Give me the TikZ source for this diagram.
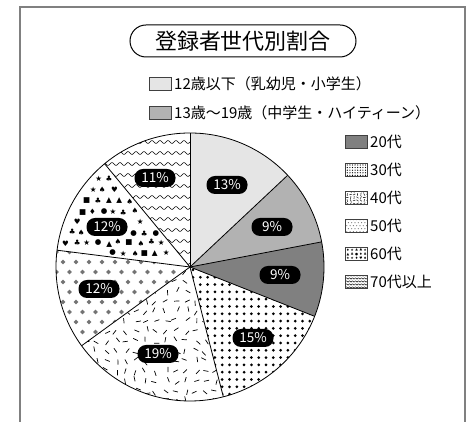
\documentclass[tikz,border=0pt]{standalone}
\usepackage{fontspec}
\setmainfont{Noto Sans CJK JP}
\newfontfamily\symf{DejaVu Sans}
\usetikzlibrary{calc}
\begin{document}
\begin{tikzpicture}[x=1pt,y=1pt,
  framel/.style={draw=black!50,line width=1.6pt},
  titlebox/.style={draw=black,line width=1pt,rounded corners=16pt,minimum width=226pt,minimum height=32pt,inner sep=0pt,font=\fontsize{22}{22}\selectfont},
  pill/.style={fill=black,text=white,rounded corners=8.5pt,minimum width=41pt,minimum height=18pt,inner sep=0pt,font=\fontsize{13.5}{13.5}\selectfont},
  legtext/.style={anchor=west,inner sep=0pt,font=\fontsize{15}{15}\selectfont},
  legbox/.style={minimum width=21pt,minimum height=13pt,inner sep=0pt},
  legline/.style={draw=black!75,line width=0.7pt},
  sep/.style={draw=black,line width=0.8pt},
  slice/.style 2 args={insert path={(0,0) -- (#1:134pt) arc[start angle=#1,end angle=#2,radius=134pt] -- cycle}},
  symnode/.style={inner sep=0pt,font=\symf\fontsize{7.5}{7.5}\selectfont}]
\useasboundingbox (0,0) rectangle (475,422);
\pgfmathsetseed{11}
\pgfmathdeclarerandomlist{suits}{{♠}{♥}{♦}{♣}{●}{★}{▲}{■}{♥}{♣}{★}{●}}
% frame
\draw[framel] (20,-5) -- (20,415) -- (465,415) -- (465,-5);
% title
\node[titlebox] (title) at (243,381) {登録者世代別割合};
% top legend
\node[legbox,fill=black!10] (lb1) at (160.5,338) {};
\draw[legline] (lb1.south west) rectangle (lb1.north east);
\node[legtext] (lt1) at (174,338) {12歳以下（乳幼児・小学生）};
\node[legbox,fill=black!30] (lb2) at (160.5,309) {};
\draw[legline] (lb2.south west) rectangle (lb2.north east);
\node[legtext] (lt2) at (174,309) {13歳〜19歳（中学生・ハイティーン）};
% pie
\begin{scope}[shift={(190,155)}]
  \fill[black!10,slice={90}{43.2}];
  \fill[black!30,slice={43.2}{10.8}];
  \fill[black!50,slice={10.8}{-21.6}];
  % 30s dots
  \begin{scope}
    \path[clip,slice={-21.6}{-75.6}];
    \foreach \i in {0,...,19}{\foreach \j in {0,...,19}{
      \fill (\i*7.3+3,-\j*7.3-3) circle (1.5pt);}}
  \end{scope}
  % 40s dashes
  \begin{scope}
    \path[clip,slice={-75.6}{-144}];
    \foreach \i in {0,...,17}{\foreach \j in {0,...,14}{
      \pgfmathsetmacro\px{-134+\i*10+2.5*rand}
      \pgfmathsetmacro\py{-\j*10-4+2.5*rand}
      \pgfmathsetmacro\pa{180*rnd}
      \pgfmathsetmacro\pb{\pa+180}
      \draw[line width=0.7pt] (\px,\py) ++(\pa:2.6pt) -- ++(\pb:5.2pt);}}
  \end{scope}
  % 50s diamonds
  \begin{scope}
    \path[clip,slice={-144}{-187.2}];
    \foreach \j in {0,...,11}{\foreach \i in {0,...,11}{
      \pgfmathsetmacro\px{-140+\i*13+mod(\j,2)*6.5}
      \pgfmathsetmacro\py{25-\j*10}
      \fill[black!55] (\px,\py) +(0,2.4) -- +(2.4,0) -- +(0,-2.4) -- +(-2.4,0) -- cycle;}}
  \end{scope}
  % 60s suits (placed only inside the slice and away from the label)
  \foreach \i in {0,...,13}{\foreach \j in {0,...,10}{
    \pgfmathsetmacro\px{-134+\i*10.5+mod(\j,2)*5+1.2*rand}
    \pgfmathsetmacro\py{3+\j*10.5+1.2*rand}
    \pgfmathrandomitem{\s}{suits}
    \pgfmathsetmacro\ca{-0.6374*\py-0.7705*\px}
    \pgfmathsetmacro\cb{0.1253*\px+0.9921*\py}
    \pgfmathsetmacro\rad{10*sqrt((\px/10)*(\px/10)+(\py/10)*(\py/10))}
    \pgfmathtruncatemacro\ok{(\ca>3.8)*(\cb>3.8)*(\rad<129)*(1-(abs(\px+83)<24)*(abs(\py-40)<12))}
    \ifnum\ok=1
      \node[symnode] (s-\i-\j) at (\px,\py) {\s};
    \fi}}
  % 70s waves
  \begin{scope}
    \path[clip,slice={-230.4}{-270}];
    \foreach \k in {0,...,12}{
      \draw[line width=0.6pt] plot[domain=-120:0,samples=160,smooth] (\x,{\k*11+4+1.4*sin(45*\x)});}
  \end{scope}
  \foreach \a in {90,43.2,10.8,-21.6,-75.6,-144,-187.2,-230.4}{\draw[sep] (0,0) -- (\a:134pt);}
  \draw[sep] (0,0) circle (134pt);
\end{scope}
% percentage labels
\node[pill] (p13) at (227,237) {13\%};
\node[pill] (p9a) at (272,195) {9\%};
\node[pill] (p9b) at (280,147) {9\%};
\node[pill] (p15) at (253,84) {15\%};
\node[pill] (p19) at (158,68) {19\%};
\node[pill] (p12a) at (99,133) {12\%};
\node[pill] (p12b) at (107,195) {12\%};
\node[pill] (p11) at (155,244) {11\%};
% right legend
\node[legbox,fill=black!50] (b20) at (356.5,280) {};
\draw[legline] (b20.south west) rectangle (b20.north east);
\node[legtext] (t20) at (370,280) {20代};
% 30
\node[legbox,fill=white] (b30) at (356.5,252) {};
\begin{scope}
  \clip (b30.south west) rectangle (b30.north east);
  \foreach \i in {0,...,7}{\foreach \j in {0,...,4}{
    \fill ($(b30.south west)+(\i*2.6+1.5,\j*2.6+1.3)$) circle (0.65pt);}}
\end{scope}
\draw[legline] (b30.south west) rectangle (b30.north east);
\node[legtext] (t30) at (370,252) {30代};
% 40
\node[legbox,fill=white] (b40) at (356.5,224) {};
\begin{scope}
  \clip (b40.south west) rectangle (b40.north east);
  \foreach \i in {0,...,6}{\foreach \j in {0,...,4}{
    \pgfmathsetmacro\pa{180*rnd}
    \pgfmathsetmacro\pb{\pa+180}
    \draw[line width=0.6pt,black!80] ($(b40.south west)+(\i*3.4+1.5,\j*3+1.2)$) ++(\pa:1.3pt) -- ++(\pb:2.6pt);}}
\end{scope}
\draw[legline] (b40.south west) rectangle (b40.north east);
\node[legtext] (t40) at (370,224) {40代};
% 50
\node[legbox,fill=white] (b50) at (356.5,196) {};
\begin{scope}
  \clip (b50.south west) rectangle (b50.north east);
  \foreach \i in {0,...,6}{\foreach \j in {0,...,4}{
    \pgfmathsetmacro\ox{mod(\j,2)*1.6}
    \fill[black!55] ($(b50.south west)+(\i*3.3+1+\ox,\j*3+1)$) circle (0.6pt);}}
\end{scope}
\draw[legline] (b50.south west) rectangle (b50.north east);
\node[legtext] (t50) at (370,196) {50代};
% 60
\node[legbox,fill=white] (b60) at (356.5,168) {};
\begin{scope}
  \clip (b60.south west) rectangle (b60.north east);
  \foreach \i in {0,...,4}{\foreach \j in {0,...,2}{
    \pgfmathrandomitem{\s}{suits}
    \node[inner sep=0pt,font=\symf\fontsize{3.5}{3.5}\selectfont] (ls-\i-\j) at ($(b60.south west)+(\i*4.3+2.2,\j*4.3+2.2)$) {\s};}}
\end{scope}
\draw[legline] (b60.south west) rectangle (b60.north east);
\node[legtext] (t60) at (370,168) {60代};
% 70
\node[legbox,fill=white] (b70) at (356.5,140) {};
\begin{scope}[shift={(b70.south west)}]
  \clip (0,0) rectangle (21,13);
  \foreach \k in {0,...,4}{
    \draw[line width=0.45pt] plot[domain=0:21,samples=60,smooth] (\x,{\k*3+1.2+0.6*sin(120*\x)});}
\end{scope}
\draw[legline] (b70.south west) rectangle (b70.north east);
\node[legtext] (t70) at (370,140) {70代以上};
\end{tikzpicture}
\end{document}
